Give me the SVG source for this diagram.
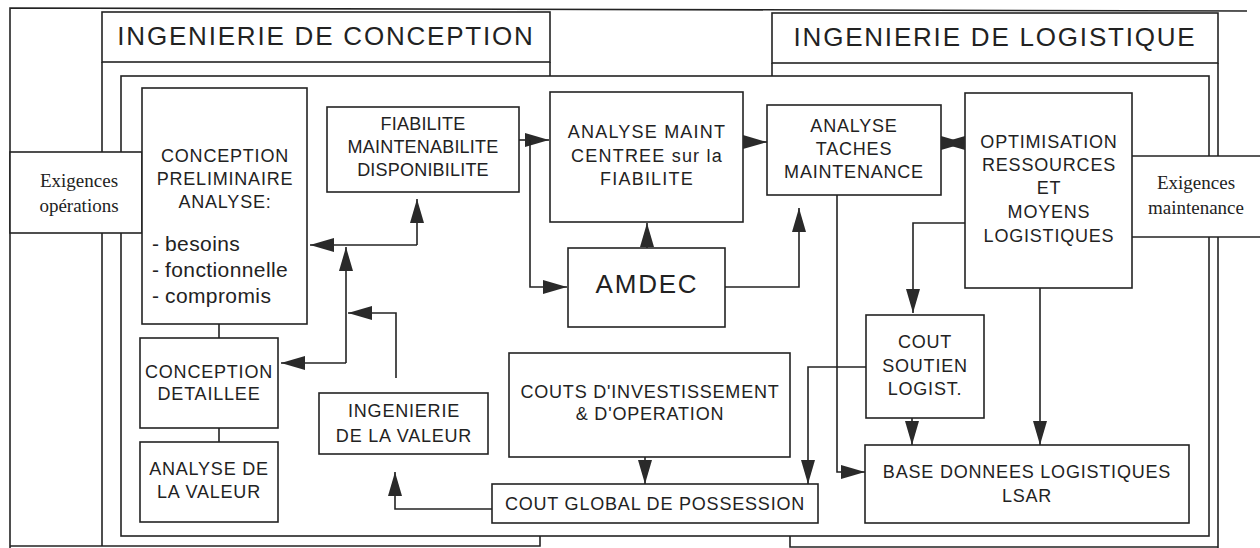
<svg xmlns="http://www.w3.org/2000/svg" width="1260" height="548" viewBox="0 0 1260 548">
<style>
  .ln{fill:none;stroke:#232323;stroke-width:1.6}
  .box{fill:#fff;stroke:#232323;stroke-width:1.6}
  .t{font-family:"Liberation Sans",Arial,sans-serif;font-size:18px;fill:#222;text-anchor:middle;letter-spacing:0.8px}
  .tl{font-family:"Liberation Sans",Arial,sans-serif;font-size:21px;fill:#222;letter-spacing:0.4px}
  .title{font-family:"Liberation Sans",Arial,sans-serif;font-size:26px;fill:#222;text-anchor:middle;letter-spacing:1.8px}
  .ex{font-family:"Liberation Serif","Times New Roman",serif;font-size:19px;fill:#222;text-anchor:middle}
  .c{fill:none;stroke:#232323;stroke-width:1.6;marker-end:url(#ah)}
</style>
<defs>
  <marker id="ah" markerUnits="userSpaceOnUse" viewBox="0 0 24 14" markerWidth="24" markerHeight="14" refX="24" refY="7" orient="auto-start-reverse">
    <path d="M0,0 L24,7 L0,14 z" fill="#2a2a2a"/>
  </marker>
</defs>
<rect width="1260" height="548" fill="#fff"/>

<g id="frames">
  <path class="ln" d="M10,548 L10,8 L1247,11"/>
  <path class="ln" d="M10,546 H540 V536"/>
  <path class="ln" d="M102,62 V546"/>
  <path class="ln" d="M550,62 V76"/>
  <path class="ln" d="M772,63 V76"/>
  <path class="ln" d="M1218,63 V548"/>
  <path class="ln" d="M790,536 V547 H1218"/>
  <rect class="ln" x="121" y="76" width="1088" height="460"/>
</g>

<g id="title-conception">
  <rect class="box" x="102" y="12" width="448" height="50"/>
  <text class="title" x="326" y="45">INGENIERIE DE CONCEPTION</text>
</g>
<g id="title-logistique">
  <rect class="box" x="772" y="13" width="446" height="50"/>
  <text class="title" x="995" y="46">INGENIERIE DE LOGISTIQUE</text>
</g>

<g id="exigences-operations">
  <rect class="box" x="10" y="152" width="132" height="81"/>
  <text class="ex" x="79" y="187">Exigences</text>
  <text class="ex" x="79" y="212">opérations</text>
</g>
<g id="exigences-maintenance">
  <rect x="1132" y="156" width="130" height="81" fill="#fff"/>
  <path class="ln" d="M1132,156 H1262 M1132,237 H1262"/>
  <text class="ex" x="1196" y="189">Exigences</text>
  <text class="ex" x="1196" y="214">maintenance</text>
</g>

<g id="conception-preliminaire">
  <rect class="box" x="142" y="88" width="165" height="236"/>
  <text class="t" x="225" y="162">CONCEPTION</text>
  <text class="t" x="225" y="185">PRELIMINAIRE</text>
  <text class="t" x="225" y="208">ANALYSE:</text>
  <text class="tl" x="152" y="251">-<tspan x="165">besoins</tspan></text>
  <text class="tl" x="152" y="277">-<tspan x="165">fonctionnelle</tspan></text>
  <text class="tl" x="152" y="303">-<tspan x="165">compromis</tspan></text>
</g>
<g id="conception-detaillee">
  <rect class="box" x="140" y="338" width="138" height="90"/>
  <text class="t" x="209" y="378">CONCEPTION</text>
  <text class="t" x="209" y="400">DETAILLEE</text>
</g>
<g id="analyse-valeur">
  <rect class="box" x="140" y="442" width="138" height="80"/>
  <text class="t" x="209" y="475">ANALYSE DE</text>
  <text class="t" x="209" y="498">LA VALEUR</text>
</g>
<g id="fiabilite">
  <rect class="box" x="327" y="107" width="192" height="85"/>
  <text class="t" x="423" y="130" style="letter-spacing:0.2px">FIABILITE</text>
  <text class="t" x="423" y="153" style="letter-spacing:0.2px">MAINTENABILITE</text>
  <text class="t" x="423" y="176" style="letter-spacing:0.2px">DISPONIBILITE</text>
</g>
<g id="analyse-maint">
  <rect class="box" x="550" y="92" width="193" height="130"/>
  <text class="t" x="647" y="138" style="letter-spacing:1.2px">ANALYSE MAINT</text>
  <text class="t" x="647" y="162" style="letter-spacing:1.2px">CENTREE sur la</text>
  <text class="t" x="647" y="185" style="letter-spacing:1.2px">FIABILITE</text>
</g>
<g id="amdec">
  <rect class="box" x="568" y="248" width="157" height="79"/>
  <text class="t" x="647" y="293" style="font-size:26px;letter-spacing:1.8px">AMDEC</text>
</g>
<g id="analyse-taches">
  <rect class="box" x="767" y="105" width="174" height="90"/>
  <text class="t" x="854" y="132">ANALYSE</text>
  <text class="t" x="854" y="155">TACHES</text>
  <text class="t" x="854" y="178">MAINTENANCE</text>
</g>
<g id="optimisation">
  <rect class="box" x="965" y="93" width="167" height="195"/>
  <text class="t" x="1049" y="148">OPTIMISATION</text>
  <text class="t" x="1049" y="171">RESSOURCES</text>
  <text class="t" x="1049" y="194">ET</text>
  <text class="t" x="1049" y="218">MOYENS</text>
  <text class="t" x="1049" y="242">LOGISTIQUES</text>
</g>
<g id="cout-soutien">
  <rect class="box" x="866" y="315" width="118" height="103"/>
  <text class="t" x="925" y="348">COUT</text>
  <text class="t" x="925" y="372">SOUTIEN</text>
  <text class="t" x="925" y="395">LOGIST.</text>
</g>
<g id="couts-investissement">
  <rect class="box" x="509" y="353" width="281" height="104"/>
  <text class="t" x="650" y="398">COUTS D'INVESTISSEMENT</text>
  <text class="t" x="650" y="420">&amp; D'OPERATION</text>
</g>
<g id="ingenierie-valeur">
  <rect class="box" x="319" y="393" width="169" height="61"/>
  <text class="t" x="404" y="417">INGENIERIE</text>
  <text class="t" x="404" y="442">DE LA VALEUR</text>
</g>
<g id="cout-global">
  <rect class="box" x="492" y="484" width="326" height="39"/>
  <text class="t" x="655" y="510">COUT GLOBAL DE POSSESSION</text>
</g>
<g id="base-donnees">
  <rect class="box" x="865" y="445" width="324" height="78"/>
  <text class="t" x="1027" y="478">BASE DONNEES LOGISTIQUES</text>
  <text class="t" x="1027" y="502">LSAR</text>
</g>

<g id="connectors">
  <path class="ln" d="M219,324 V338 M219,428 V442"/>
  <path class="c" d="M417,245 H310"/>
  <path class="c" d="M417,245 V199"/>
  <path class="c" d="M346,363 V247"/>
  <path class="c" d="M346,363 H281"/>
  <path class="c" d="M396,378 V313 H348"/>
  <path class="c" d="M492,509 H395 V472"/>
  <path class="c" d="M645,457 V484"/>
  <path class="c" d="M866,367 H808 V484"/>
  <path class="c" d="M837,195 V472 H865"/>
  <path class="c" d="M912,418 V445"/>
  <path class="c" d="M1040,288 V445"/>
  <path class="c" d="M965,223 H913 V313"/>
  <path class="c" d="M725,287 H799 V208"/>
  <path class="c" d="M647,248 V223"/>
  <path class="c" d="M519,140 H549"/>
  <path class="c" d="M530,140 V287 H567"/>
  <path class="c" d="M743,142 H767"/>
  <path class="c" d="M941,143 H965" style="marker-start:url(#ah)"/>
</g>
</svg>
